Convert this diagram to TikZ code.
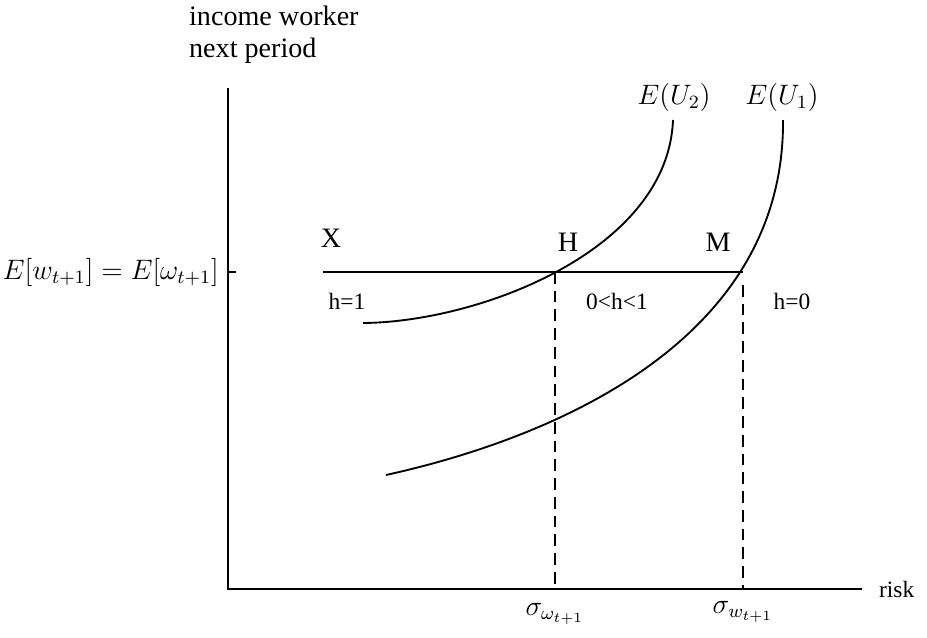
\documentclass[tikz,border=0pt]{standalone}
\usepackage{fontspec}
\setmainfont{Liberation Serif}
\usetikzlibrary{positioning, calc}
\tikzset{
  every picture/.style={line width=0.7pt},
  axis/.style={line width=0.8pt},
  curve/.style={line width=0.8pt},
  guide/.style={dashed, line width=0.7pt, dash pattern=on 5pt off 3pt},
  lbl/.style={inner sep=1pt},
  big/.style={inner sep=1pt, font=\fontsize{12}{13.5}\selectfont},
}

\begin{document}
\begin{tikzpicture}[x=0.015cm, y=-0.015cm]
  \useasboundingbox (0,0) rectangle (927,637);
  % ---------- axes ----------
  \coordinate (O) at (228,589);
  \coordinate (ytop) at (228,88);
  \coordinate (xend) at (862,589);
  \draw[axis] (ytop) -- (O) -- (xend);
  \node[big, anchor=north west, align=left] (ylab) at (186,3) {income worker\\next period};
  \node[lbl, anchor=west] (xlab) at (876,589) {risk};
  % ---------- budget line ----------
  \coordinate (tick) at (236,272);
  \coordinate (yE) at (228,272);
  \draw[axis] (yE) -- (tick);
  \node[big, anchor=east] (Elab) at (222,272) {$E[w_{t+1}] = E[\omega_{t+1}]$};
  \coordinate (X) at (323,272);
  \coordinate (H) at (557,272);
  \coordinate (M) at (743,272);
  \draw[curve] (X) -- (M);
  \node[big] (Xlab) at (331,238) {X};
  \node[big] (Hlab) at (568,242) {H};
  \node[big] (Mlab) at (718,242) {M};
  \node[lbl] (h1) at (347,301) {h=1};
  \node[lbl] (hmid) at (617,301) {0<h<1};
  \node[lbl] (h0) at (792,301) {h=0};
  % ---------- indifference curves ----------
  \coordinate (u2a) at (363,323);
  \coordinate (u2b) at (673,120);
  \coordinate (u1a) at (386,475);
  \coordinate (u1b) at (783,120);
  \draw[curve] (u2a) .. controls (480,322) and (668,250) .. (u2b);
  \draw[curve] (u1a) .. controls (490,452) and (785,370) .. (u1b);
  \node[big] (U2lab) at (674,97) {$E(U_2)$};
  \node[big] (U1lab) at (782,97) {$E(U_1)$};
  % ---------- risk levels ----------
  \coordinate (Mb) at (743,285);
  \coordinate (sH) at (555,589);
  \coordinate (sM) at (743,589);
  \draw[guide] ($(H)+(-2,0)$) -- (sH);
  \draw[guide] (Mb) -- (sM);
  \node[big] (sigH) at (555,614) {$\sigma_{\omega_{t+1}}$};
  \node[big] (sigM) at (743,612) {$\sigma_{w_{t+1}}$};
\end{tikzpicture}
\end{document}
